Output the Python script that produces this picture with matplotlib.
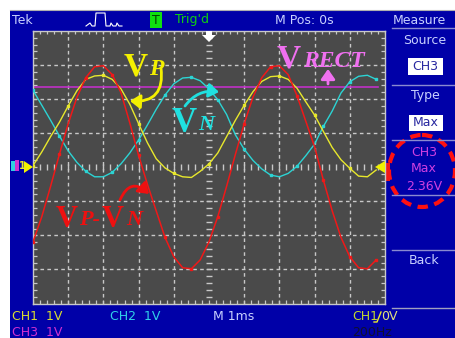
import matplotlib.pyplot as plt
import numpy as np
from matplotlib.patches import Rectangle, Ellipse, FancyArrowPatch, Polygon

# time axis in divisions (1 ms/div), voltages in volts (1 V/div)
t_div = [-5.00, -4.75, -4.50, -4.25, -4.00, -3.75, -3.50, -3.25, -3.00, -2.75,
         -2.50, -2.25, -2.00, -1.75, -1.50, -1.25, -1.00, -0.75, -0.50, -0.25,
         0.00, 0.25, 0.50, 0.75, 1.00, 1.25, 1.50, 1.75, 2.00, 2.25,
         2.50, 2.75, 3.00, 3.25, 3.50, 3.75, 4.00, 4.25, 4.50, 4.75]

vp = [0.05, 0.45, 0.90, 1.32, 1.80, 2.25, 2.58, 2.68, 2.70, 2.58,
      2.30, 1.85, 1.28, 0.72, 0.25, -0.02, -0.18, -0.28, -0.30, -0.12,
      0.10, 0.42, 0.90, 1.38, 1.82, 2.22, 2.52, 2.66, 2.68, 2.58,
      2.32, 1.92, 1.53, 1.05, 0.58, 0.22, -0.03, -0.26, -0.28, -0.08]

vn = [2.26, 1.82, 1.38, 0.92, 0.48, 0.14, -0.12, -0.28, -0.28, -0.15,
      0.10, 0.42, 0.80, 1.24, 1.70, 2.12, 2.45, 2.62, 2.64, 2.54,
      2.30, 1.98, 1.55, 0.95, 0.53, 0.20, -0.05, -0.23, -0.28, -0.18,
      0.03, 0.34, 0.68, 1.20, 1.65, 2.18, 2.51, 2.67, 2.70, 2.58]

vdiff = [-2.19, -1.45, -0.56, 0.38, 1.28, 2.06, 2.63, 2.95, 2.98, 2.72,
         2.19, 1.30, 0.35, -0.50, -1.28, -2.06, -2.63, -2.95, -2.98, -2.72,
         -2.19, -1.45, -0.56, 0.38, 1.28, 2.06, 2.63, 2.95, 2.98, 2.72,
         2.10, 1.35, 0.60, -0.38, -1.28, -2.06, -2.63, -2.95, -2.98, -2.72]

v_rect = 2.36
rect_end = 4.8

BLUE = '#0000a8'
TXT = '#c8d0ff'
GRIDBG = '#4a4a4a'
GRIDLN = '#c8c8c8'
YEL = '#e8e82c'
CYAN = '#2cd4d4'
RED = '#f01818'
MAG = '#c030c8'

W, H = 456, 338
fig = plt.figure(figsize=(W / 100, H / 100), dpi=100)
fig.patch.set_facecolor('white')

# background (pixel coordinates, y down)
bg = fig.add_axes([0, 0, 1, 1])
bg.set_xlim(0, W)
bg.set_ylim(H, 0)
bg.axis('off')
bg.add_patch(Rectangle((10, 10), W - 10, H - 10, color=BLUE, lw=0))
bg.plot([10, W], [9.5, 9.5], color='#b0b0b0', lw=0.8)

ui = dict(fontsize=9, family='DejaVu Sans', va='center')
bg.text(12, 20, 'Tek', color=TXT, **ui)
bg.plot([86, 90, 92, 95, 96, 105, 106, 110, 111, 113, 116, 117, 119, 122],
        [26, 23, 26, 26, 13, 13, 26, 26, 23, 26, 26, 23, 26, 26], color='white', lw=0.8)
bg.add_patch(Rectangle((150, 12), 12, 16, color='#10e010', lw=0))
bg.text(156, 20, 'T', color='#004000', ha='center', **ui)
bg.text(175, 20, "Trig'd", color='#10d010', **ui)
bg.text(275, 20, 'M Pos: 0s', color=TXT, **ui)
bg.text(393, 20, 'Measure', color=TXT, **ui)

# right menu
for yy in [28, 85, 140, 195, 250]:
    bg.plot([392, W], [yy, yy], color='#8a8ad0', lw=1.0)
bg.text(425, 41, 'Source', color=TXT, ha='center', **ui)
bg.add_patch(Rectangle((408, 58), 35, 17, color='white', lw=0))
bg.text(425.5, 66.5, 'CH3', color='#2828a0', ha='center', **ui)
bg.text(425, 96, 'Type', color=TXT, ha='center', **ui)
bg.add_patch(Rectangle((409, 115), 34, 16, color='white', lw=0))
bg.text(426, 123, 'Max', color='#2828a0', ha='center', **ui)
bg.text(424, 152, 'CH3', color='#d040e0', ha='center', **ui)
bg.text(424, 168, 'Max', color='#d040e0', ha='center', **ui)
bg.text(424, 186, '2.36V', color='#d040e0', ha='center', **ui)
bg.text(424, 261, 'Back', color=TXT, ha='center', **ui)
bg.add_patch(Ellipse((422, 171), 66, 72, fill=False, ec='#ff1010', lw=3,
                     ls=(0, (2.5, 1.6))))

# bottom status line
bg.plot([392, W], [308, 308], color='#a0a0c0', lw=1.0)
bg.text(12, 317, 'CH1  1V', color='#d8dc30', **ui)
bg.text(110, 317, 'CH2  1V', color='#30d0e8', **ui)
bg.text(213, 317, 'M 1ms', color=TXT, **ui)
bg.text(352, 317, 'CH1', color='#c0d830', **ui)
bg.plot([374, 377, 381], [322, 322, 312], color='#e8e830', lw=1)
bg.text(381, 317, '0V', color='#e0e080', **ui)
bg.text(12, 332, 'CH3  1V', color='#d030d0', **ui)
bg.text(352, 332, '200Hz', color='#101030', **ui)

# channel markers
bg.add_patch(Rectangle((11, 161), 4, 10, color='#30d0e0', lw=0))
bg.add_patch(Rectangle((15, 160), 4, 11, color='#d030d0', lw=0))
bg.text(19, 166, '1', color=YEL, fontsize=7, va='center', fontweight='bold')
bg.add_patch(Polygon([[24, 161], [33, 167], [24, 173]], color='#f0f000', lw=0))
bg.add_patch(Rectangle((386, 163), 4, 18, color=RED, lw=0))

# scope screen
ax = fig.add_axes([33 / W, (H - 303.5) / H, 352 / W, 272.5 / H])
ax.set_xlim(-5, 5)
ax.set_ylim(-4, 4)
ax.set_facecolor(GRIDBG)
ax.set_xticks([])
ax.set_yticks([])
for s in ax.spines.values():
    s.set_color(GRIDLN)
    s.set_linewidth(1.0)

for gx in [-4, -3, -2, -1, 1, 2, 3, 4]:
    ax.axvline(gx, color=GRIDLN, lw=1.0, ls=(0, (2.6, 2.4)), zorder=1)
for gy in [-3, -2, -1, 1, 2, 3]:
    ax.axhline(gy, color=GRIDLN, lw=1.0, ls=(0, (2.6, 2.4)), zorder=1)

minor_x = np.arange(-5, 5.01, 0.2)
minor_y = np.arange(-4, 4.01, 0.2)
ax.vlines(minor_x, -0.09, 0.09, color=GRIDLN, lw=1.0, zorder=1)
ax.hlines(minor_y, -0.09, 0.09, color=GRIDLN, lw=1.0, zorder=1)
ax.vlines(minor_x, 3.9, 4, color=GRIDLN, lw=0.9, zorder=1)
ax.vlines(minor_x, -4, -3.9, color=GRIDLN, lw=0.9, zorder=1)
ax.hlines(minor_y, -5, -4.9, color=GRIDLN, lw=0.9, zorder=1)
ax.hlines(minor_y, 4.9, 5, color=GRIDLN, lw=0.9, zorder=1)

ax.plot([-5, rect_end], [v_rect, v_rect], color=MAG, lw=1.2, zorder=2)
ax.plot(t_div, vn, color=CYAN, lw=1.0, marker='s', ms=2, markevery=3, zorder=3)
ax.plot(t_div, vp, color=YEL, lw=1.0, marker='s', ms=2, markevery=4, zorder=3)
ax.plot(t_div, vdiff, color=RED, lw=1.1, marker='s', ms=2, markevery=3, zorder=4)

# overlay: markers and annotations
ov = fig.add_axes([0, 0, 1, 1])
ov.set_xlim(0, W)
ov.set_ylim(H, 0)
ov.axis('off')
ov.patch.set_alpha(0)

ov.add_patch(Polygon([[206, 31], [212, 31], [212, 35], [216, 35], [209, 42], [202, 35], [206, 35]],
                     color='white', lw=0))
ov.add_patch(Polygon([[385, 161], [375, 167], [385, 173]], color='#f0f000', lw=0))

big = dict(family='Liberation Serif', fontweight='bold', va='baseline', ha='left')
sub = dict(family='Liberation Serif', fontweight='bold', fontstyle='italic', va='baseline', ha='left')
ov.text(124, 75, 'V', color='#f4f000', fontsize=24, **big)
ov.text(149, 75, 'P', color='#f4f000', fontsize=17, **sub)
ov.text(172, 132, 'V', color='#20e0e0', fontsize=25, **big)
ov.text(198, 130, 'N', color='#20e0e0', fontsize=16, **sub)
ov.text(56, 227, 'V', color='#ee1010', fontsize=22, **big)
ov.text(79, 225, 'P-', color='#ee1010', fontsize=16, **sub)
ov.text(102, 227, 'V', color='#ee1010', fontsize=22, **big)
ov.text(126, 225, 'N', color='#ee1010', fontsize=16, **sub)
ov.text(277, 67, 'V', color='#f070f0', fontsize=24, **big)
ov.text(303, 67, 'RECT', color='#f070f0', fontsize=17, **sub)

def curved(a, b, rad, col):
    ov.add_patch(FancyArrowPatch(a, b, connectionstyle=f'arc3,rad={rad}',
                                 arrowstyle='-|>,head_length=0.5,head_width=0.35',
                                 mutation_scale=12, color=col, lw=2, shrinkA=0, shrinkB=0))

curved((161, 68), (130, 101), -0.6, '#f4f000')
curved((185, 106), (219, 92), -0.3, '#20e0e0')
curved((120, 200), (149, 194), -0.7, '#ee1010')
curved((328, 84), (328, 69), 0.0, '#f070f0')

fig.savefig('out.png', dpi=100, facecolor='white')
